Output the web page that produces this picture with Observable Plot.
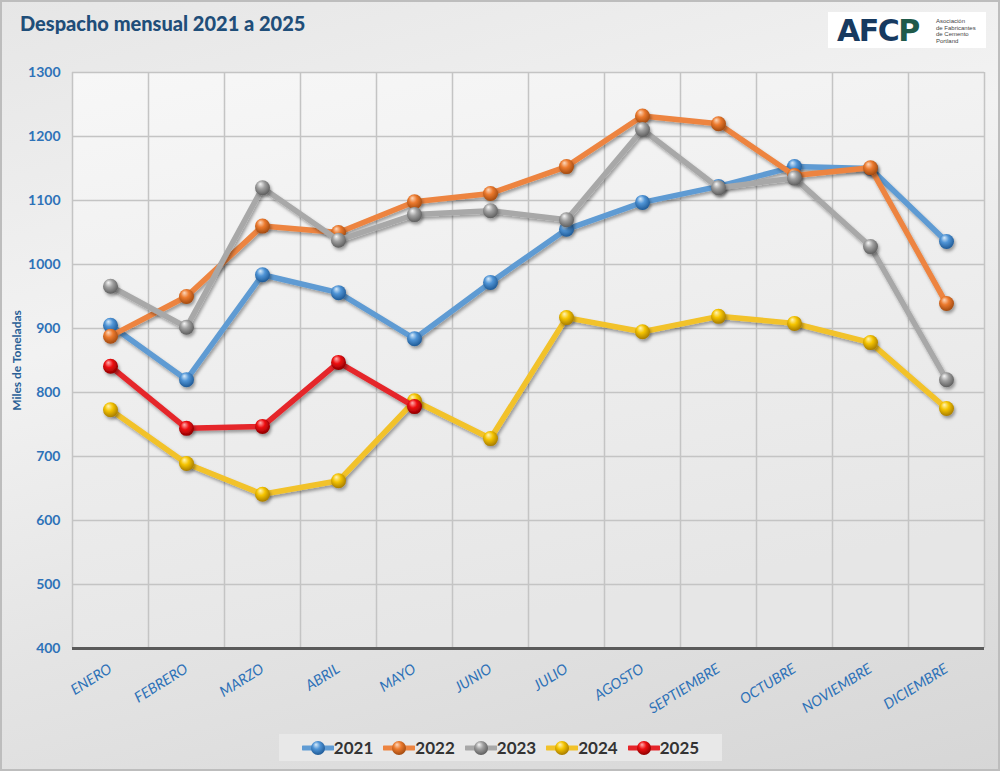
<!DOCTYPE html>
<html><head><meta charset="utf-8">
<script src="https://cdn.jsdelivr.net/npm/d3@7"></script>
<script src="https://cdn.jsdelivr.net/npm/@observablehq/plot@0.6"></script>
<style>
body{margin:0;background:#fff;}
#wrap{position:relative;width:1000px;height:771px;overflow:hidden;
 background:linear-gradient(165deg,#e6e6e6 0%,#f2f2f2 35%,#e4e4e4 65%,#d6d6d6 100%);font-family:Lato,sans-serif;}
#border{position:absolute;left:0;top:0;width:1000px;height:771px;box-sizing:border-box;border:2px solid #bdbdbd;pointer-events:none;}
#title{position:absolute;left:20px;top:11px;font:900 20px Lato,sans-serif;color:#1f4e79;white-space:nowrap;}
#logo{position:absolute;left:828px;top:12px;width:158px;height:36px;background:#fff;}
#logo .mark{position:absolute;left:9px;top:1px;font:900 30px "DejaVu Sans",sans-serif;color:#173a60;letter-spacing:-1.5px;}
#logo .mark .p{color:#1f5a4a;}
#logo .sub{position:absolute;left:108px;top:6px;font:6px/6.5px "Liberation Sans",sans-serif;color:#444;}
#chart{position:absolute;left:0;top:0;}
#legend{position:absolute;left:279px;top:734px;width:443px;height:27px;background:#e8e8e8;display:flex;align-items:center;justify-content:center;gap:10px;}
#legend .it{display:flex;align-items:center;font:700 17px Lato,sans-serif;color:#333;}
#legend svg{display:block;}
</style></head><body>
<div id="wrap">
 <div id="chart"></div>
 <div id="title">Despacho mensual 2021 a 2025</div>
 <div id="logo"><div class="mark">AFC<span class="p">P</span></div><div class="sub">Asociación<br>de Fabricantes<br>de Cemento<br>Portland</div></div>
 <div id="legend"></div>
 <div id="border"></div>
</div>
<script>
const months = ["ENERO","FEBRERO","MARZO","ABRIL","MAYO","JUNIO","JULIO","AGOSTO","SEPTIEMBRE","OCTUBRE","NOVIEMBRE","DICIEMBRE"];
const years = ["2021","2022","2023","2024","2025"];
const v2021 = [905, 820, 984, 956, 884, 972, 1055, 1097, 1122, 1153, 1150, 1036];
const v2022 = [888, 950, 1060, 1050, 1098, 1111, 1153, 1232, 1220, 1139, 1151, 939];
const v2023 = [966, 902, 1120, 1038, 1078, 1084, 1070, 1211, 1120, 1135, 1028, 820];
const v2024 = [773, 689, 641, 662, 787, 728, 917, 895, 919, 908, 878, 775];
const v2025 = [841, 744, 747, 847, 778];
const yTicks = [400,500,600,700,800,900,1000,1100,1200,1300];
const lineColors = ["#5f9bd3","#ed8440","#a8a8a8","#f2c229","#e5252a"];
const ballColors = [
  ["#d8ebfa","#4f94d6","#1f5a96"],
  ["#fcd8bd","#ec7a2e","#a14a10"],
  ["#f6f6f6","#a0a0a0","#5e5e5e"],
  ["#fff4b8","#f5c400","#a77c00"],
  ["#ffb0b0","#ee0f12","#8e0000"]
];
const seriesVals = [v2021, v2022, v2023, v2024, v2025];

const series = years.map((y, k) => ({
  year: y,
  color: lineColors[k],
  data: seriesVals[k].map((v, i) => ({x: i + 0.5, y: v, month: months[i]}))
}));

const marks = [
  Plot.frame({fill: "url(#plotbg)", stroke: null}),
  Plot.gridX(d3.range(0, 13), {stroke: "#c4c4c4", strokeOpacity: 1, strokeWidth: 1.5}),
  Plot.gridY(yTicks, {stroke: "#c4c4c4", strokeOpacity: 1, strokeWidth: 1.5}),
  Plot.ruleY([400], {stroke: "#5a5a5a", strokeWidth: 3}),
  Plot.axisY(yTicks, {tickSize: 0, tickPadding: 12, fontSize: 14, fontWeight: 700, fill: "#2e72b8",
    tickFormat: d => String(d),
    label: "Miles de Toneladas", labelAnchor: "center", labelArrow: "none", labelOffset: 60}),
  Plot.axisX(months.map((m, i) => i + 0.5), {tickSize: 0, tickPadding: 19, tickRotate: -32,
    tickFormat: d => months[Math.floor(d)], fontSize: 14.5, fontStyle: "italic", fill: "#2e72b8", label: null})
];
series.forEach((s, k) => {
  marks.push(Plot.line(s.data, {x: "x", y: "y", stroke: s.color, strokeWidth: 5.5, strokeLinejoin: "round"}));
  marks.push(Plot.dot(s.data, {x: "x", y: "y", r: 7.5, fill: `url(#ball${s.year})`, stroke: null}));
});

const svg = Plot.plot({
  width: 1000, height: 720,
  marginTop: 72, marginBottom: 72, marginLeft: 72, marginRight: 16,
  x: {domain: [0, 12], axis: null},
  y: {domain: [400, 1300], axis: null},
  style: {background: "transparent", fontFamily: "Lato, sans-serif", overflow: "visible"},
  marks
});

const sel = d3.select(svg);
const defs = sel.insert("defs", ":first-child");
const bg = defs.append("linearGradient").attr("id", "plotbg").attr("x1", 0).attr("y1", 0).attr("x2", 0.3).attr("y2", 1);
bg.append("stop").attr("offset", 0).attr("stop-color", "#f7f7f7");
bg.append("stop").attr("offset", 1).attr("stop-color", "#e6e6e6");
years.forEach((y, k) => {
  const g = defs.append("radialGradient").attr("id", "ball" + y)
    .attr("cx", 0.45).attr("cy", 0.4).attr("r", 0.6).attr("fx", 0.35).attr("fy", 0.25);
  g.append("stop").attr("offset", 0).attr("stop-color", ballColors[k][0]);
  g.append("stop").attr("offset", 0.45).attr("stop-color", ballColors[k][1]);
  g.append("stop").attr("offset", 1).attr("stop-color", ballColors[k][2]);
});
const f = defs.append("filter").attr("id", "shadow").attr("x", "-20%").attr("y", "-20%").attr("width", "140%").attr("height", "140%");
f.append("feDropShadow").attr("dx", 1.5).attr("dy", 2.5).attr("stdDeviation", 1.8).attr("flood-color", "#000").attr("flood-opacity", 0.35);
sel.selectAll('g[aria-label="line"], g[aria-label="dot"]').attr("filter", "url(#shadow)");
sel.selectAll('g[aria-label="y-axis label"] text').attr("font-size", 12).attr("font-weight", 700).attr("fill", "#2a5f96");
document.getElementById("chart").appendChild(svg);

// legend
const leg = d3.select("#legend");
years.forEach((y, k) => {
  const it = leg.append("div").attr("class", "it");
  const s = it.append("svg").attr("width", 32).attr("height", 18);
  s.append("line").attr("x1", 1).attr("x2", 31).attr("y1", 9).attr("y2", 9)
    .attr("stroke", lineColors[k]).attr("stroke-width", 5).attr("stroke-linecap", "round");
  s.append("circle").attr("cx", 16).attr("cy", 9).attr("r", 7).attr("fill", `url(#ball${y})`);
  it.append("span").text(y);
});
</script>
</body></html>
